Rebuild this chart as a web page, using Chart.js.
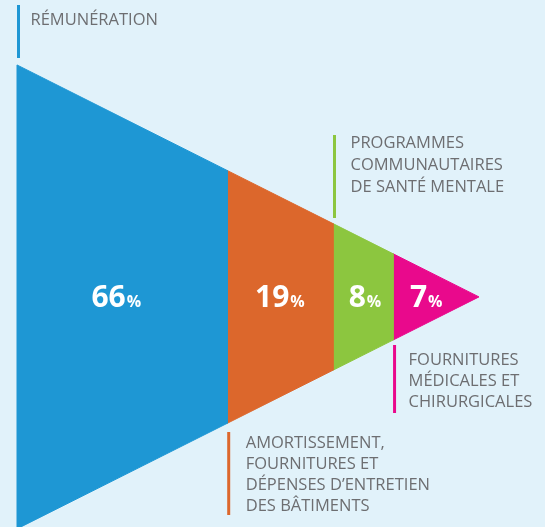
<!DOCTYPE html>
<html>
<head>
<meta charset="utf-8">
<script src="https://cdn.jsdelivr.net/npm/chart.js@4/dist/chart.umd.min.js"></script>
<style>
  html, body { margin: 0; padding: 0; background: #e1f2fa; }
  #wrap { width: 545px; height: 527px; }
</style>
</head>
<body>
<div id="wrap"><canvas id="funnel" width="545" height="527"></canvas></div>
<script>
// shares of spending, in funnel order
const categories = [
  ["RÉMUNÉRATION"],
  ["AMORTISSEMENT,", "FOURNITURES ET", "DÉPENSES D’ENTRETIEN", "DES BÂTIMENTS"],
  ["PROGRAMMES", "COMMUNAUTAIRES", "DE SANTÉ MENTALE"],
  ["FOURNITURES", "MÉDICALES ET", "CHIRURGICALES"]
];
const shares = [66, 19, 8, 7];
// where each slice starts / ends along the funnel (0 = wide end, 100 = tip)
const stops = [0, 45.5, 68.4, 81.4, 100];
const colors = ["#1e97d4", "#dc672c", "#8cc63f", "#e9098c"];

// where the caption sits (top or bottom of the funnel) and its spacing
const captions = [
  { stop: 0, lineY: [5, 58], dx: 12, base: 25, lh: 21 },
  { stop: 1, lineY: [432, 515], dx: 17, base: 448, lh: 21 },
  { stop: 2, lineY: [135, 218], dx: 16, base: 148, lh: 22 },
  { stop: 3, lineY: [345, 413], dx: 14, base: 365, lh: 21 }
];

const half = (x) => 50 * (1 - x / 100);

// one closed trapezoid per slice
const datasets = shares.map((s, i) => {
  const a = stops[i];
  const b = stops[i + 1];
  return {
    label: categories[i].join(" "),
    data: [
      { x: a, y: half(a) },
      { x: b, y: half(b) },
      { x: b, y: -half(b) },
      { x: a, y: -half(a) },
      { x: a, y: half(a) }
    ],
    backgroundColor: colors[i],
    borderColor: colors[i],
    borderWidth: 1,
    pointRadius: 0,
    tension: 0,
    fill: "shape"
  };
});

const labelsPlugin = {
  id: "funnelLabels",
  afterDatasetsDraw(chart) {
    const ctx = chart.ctx;
    const xs = chart.scales.x;
    const ys = chart.scales.y;
    ctx.save();

    // percentages at the centroid of each slice
    shares.forEach((s, i) => {
      const a = stops[i];
      const b = stops[i + 1];
      const ha = half(a);
      const hb = half(b);
      const cx = a + (b - a) * (ha + 2 * hb) / (3 * (ha + hb));
      const px = xs.getPixelForValue(cx) + 4;
      const py = ys.getPixelForValue(0) + 10;
      ctx.font = "bold 30px 'Open Sans'";
      const w1 = ctx.measureText(String(s)).width;
      ctx.font = "bold 16px 'Open Sans'";
      const w2 = ctx.measureText("%").width;
      const x0 = px - (w1 + w2) / 2;
      ctx.fillStyle = "#ffffff";
      ctx.textBaseline = "alphabetic";
      ctx.textAlign = "left";
      ctx.font = "bold 30px 'Open Sans'";
      ctx.fillText(String(s), x0, py);
      ctx.font = "bold 16px 'Open Sans'";
      ctx.fillText("%", x0 + w1 + 1, py);
    });

    // captions with coloured leader lines
    captions.forEach((c, i) => {
      const lx = xs.getPixelForValue(stops[c.stop]) + 1.5;
      ctx.strokeStyle = colors[i];
      ctx.lineWidth = 3;
      ctx.beginPath();
      ctx.moveTo(lx, c.lineY[0]);
      ctx.lineTo(lx, c.lineY[1]);
      ctx.stroke();

      ctx.fillStyle = "#6d6e71";
      ctx.font = "16.5px 'Open Sans'";
      categories[i].forEach((t, k) => {
        ctx.fillText(t, lx + c.dx, c.base + k * c.lh);
      });
    });
    ctx.restore();
  }
};

new Chart(document.getElementById("funnel"), {
  type: "line",
  data: { datasets: datasets },
  options: {
    responsive: false,
    animation: false,
    layout: { padding: 0 },
    clip: false,
    scales: {
      x: { type: "linear", display: false, min: -3.68, max: 114.29 },
      y: { type: "linear", display: false, min: -49.6, max: 64.0 }
    },
    plugins: {
      legend: { display: false },
      tooltip: { enabled: false }
    }
  },
  plugins: [labelsPlugin]
});
</script>
</body>
</html>
